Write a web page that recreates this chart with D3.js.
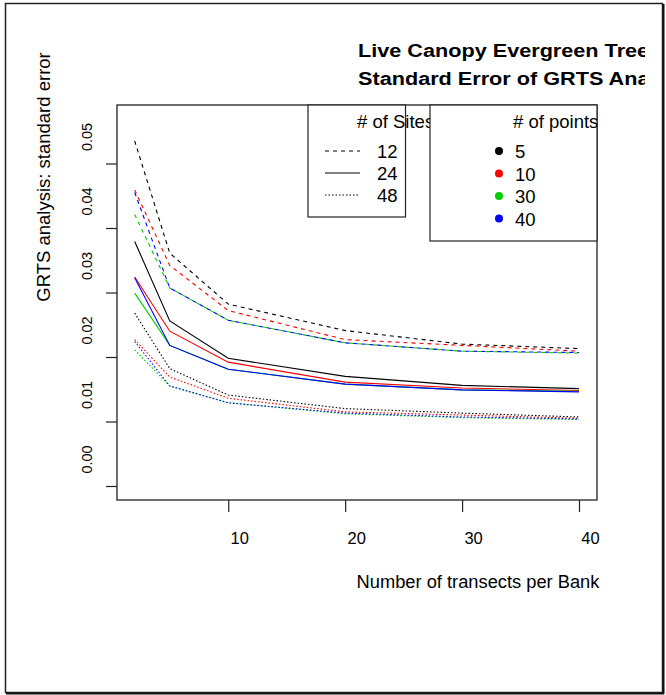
<!DOCTYPE html>
<html>
<head>
<meta charset="utf-8">
<script src="https://cdn.jsdelivr.net/npm/d3@7"></script>
<style>
  body { margin: 0; background: #fff; }
  text { font-family: "Liberation Sans", Arial, sans-serif; fill: #000; }
</style>
</head>
<body>
<div id="chart"></div>
<script>
// data
var transects = [2, 5, 10, 20, 30, 40];
var siteLevels = ["12", "24", "48"];
var pointLevels = ["5", "10", "30", "40"];
var pointColors = ["#000000", "#ff0000", "#00cd00", "#0000ff"];
var xTicks = [10, 20, 30, 40];
var yTicks = [0, 0.01, 0.02, 0.03, 0.04, 0.05];

// 12 sites (dashed)
var se12_p5  = [0.0535, 0.0361, 0.0282, 0.0241, 0.0220, 0.0213];
var se12_p10 = [0.0459, 0.0342, 0.0272, 0.0227, 0.0218, 0.0209];
var se12_p30 = [0.0421, 0.0307, 0.0257, 0.0222, 0.0209, 0.0206];
var se12_p40 = [0.0455, 0.0307, 0.0257, 0.0222, 0.0209, 0.0207];
// 24 sites (solid)
var se24_p5  = [0.0379, 0.0256, 0.0198, 0.0170, 0.0156, 0.0151];
var se24_p10 = [0.0324, 0.0240, 0.0192, 0.0161, 0.0152, 0.0148];
var se24_p30 = [0.0299, 0.0218, 0.0181, 0.0158, 0.0149, 0.0147];
var se24_p40 = [0.0323, 0.0218, 0.0181, 0.0158, 0.0149, 0.0146];
// 48 sites (dotted)
var se48_p5  = [0.0268, 0.0182, 0.0141, 0.0120, 0.0113, 0.0107];
var se48_p10 = [0.0227, 0.0169, 0.0136, 0.0115, 0.0110, 0.0105];
var se48_p30 = [0.0211, 0.0155, 0.0129, 0.0112, 0.0106, 0.0103];
var se48_p40 = [0.0224, 0.0155, 0.0129, 0.0113, 0.0107, 0.0104];

var dashes = {"12": "4,4", "24": null, "48": "1.5,2"};

var series = [
  {sites: "12", pts: 0, vals: se12_p5}, {sites: "12", pts: 1, vals: se12_p10},
  {sites: "12", pts: 2, vals: se12_p30}, {sites: "12", pts: 3, vals: se12_p40},
  {sites: "24", pts: 0, vals: se24_p5}, {sites: "24", pts: 1, vals: se24_p10},
  {sites: "24", pts: 2, vals: se24_p30}, {sites: "24", pts: 3, vals: se24_p40},
  {sites: "48", pts: 0, vals: se48_p5}, {sites: "48", pts: 1, vals: se48_p10},
  {sites: "48", pts: 2, vals: se48_p30}, {sites: "48", pts: 3, vals: se48_p40}
];

var svgWidth = 666;
var svgHeight = 695;

var plot = {left: 117, right: 597, top: 105, bottom: 500};

var svg = d3.select("#chart")
  .append("svg")
  .attr("width", svgWidth)
  .attr("height", svgHeight);

// outer frame
svg.append("rect")
  .attr("x", 5.5).attr("y", 3.5)
  .attr("width", 657).attr("height", 689)
  .attr("fill", "none").attr("stroke", "#222").attr("stroke-width", 1.5);
svg.append("line").attr("x1", 663.5).attr("x2", 663.5).attr("y1", 4).attr("y2", 694)
  .attr("stroke", "#111").attr("stroke-width", 2);
svg.append("line").attr("x1", 6).attr("x2", 664).attr("y1", 693.5).attr("y2", 693.5)
  .attr("stroke", "#111").attr("stroke-width", 2);

// scales
var xScale = d3.scaleLinear().domain([0, 40]).range([111.3, 579]);
var yScale = d3.scaleLinear().domain([0, 0.05]).range([486, 163.5]);

// lines
var line = d3.line()
  .x(function(d, i) { return xScale(transects[i]); })
  .y(function(d) { return yScale(d); });

svg.append("g").selectAll("path")
  .data(series)
  .enter()
  .append("path")
  .attr("d", function(d) { return line(d.vals); })
  .attr("fill", "none")
  .attr("stroke", function(d) { return pointColors[d.pts]; })
  .attr("stroke-width", 1.1)
  .attr("stroke-dasharray", function(d) { return dashes[d.sites]; });

// plot box
svg.append("rect")
  .attr("x", plot.left).attr("y", plot.top)
  .attr("width", plot.right - plot.left).attr("height", plot.bottom - plot.top)
  .attr("fill", "none").attr("stroke", "#222").attr("stroke-width", 1.3);

// axes
var bottomAxis = d3.axisBottom(xScale).tickValues(xTicks).tickSize(12).tickFormat(d3.format("d"));
var leftAxis = d3.axisLeft(yScale).tickValues(yTicks).tickSize(11).tickFormat(d3.format(".2f"));

var xAxisG = svg.append("g")
  .attr("transform", `translate(0, ${plot.bottom})`)
  .call(bottomAxis);
xAxisG.select(".domain").remove();
xAxisG.selectAll("line").attr("stroke", "#222").attr("stroke-width", 1.2);
xAxisG.selectAll("text")
  .attr("y", 44).attr("dy", null).attr("x", 11)
  .style("font-size", "16.5px")
  .attr("font-family", null);

var yAxisG = svg.append("g")
  .attr("transform", `translate(${plot.left}, 0)`)
  .call(leftAxis);
yAxisG.select(".domain").remove();
yAxisG.selectAll("line").attr("stroke", "#222").attr("stroke-width", 1.2);
yAxisG.selectAll("text")
  .attr("x", null).attr("dy", null)
  .attr("text-anchor", "middle")
  .attr("transform", "translate(-25, -27) rotate(-90)")
  .style("font-size", "14.5px")
  .attr("font-family", null);

// axis titles
svg.append("text")
  .attr("x", 478).attr("y", 588)
  .attr("text-anchor", "middle")
  .style("font-size", "18.3px")
  .text("Number of transects per Bank");

svg.append("text")
  .attr("transform", "translate(50, 177) rotate(-90)")
  .attr("text-anchor", "middle")
  .style("font-size", "18.5px")
  .text("GRTS analysis: standard error");

// title (clipped on the right)
svg.append("clipPath").attr("id", "titleClip")
  .append("rect").attr("x", 0).attr("y", 0).attr("width", 645).attr("height", 100);
var titleG = svg.append("g").attr("clip-path", "url(#titleClip)");
titleG.append("text")
  .attr("transform", "translate(358, 57) scale(1.14, 1)")
  .style("font-size", "19px").style("font-weight", "bold")
  .text("Live Canopy Evergreen Tree Cover");
titleG.append("text")
  .attr("transform", "translate(358, 85) scale(1.14, 1)")
  .style("font-size", "19px").style("font-weight", "bold")
  .text("Standard Error of GRTS Analysis");

// legend: # of Sites
var leg1 = svg.append("g");
leg1.append("rect")
  .attr("x", 308).attr("y", 105).attr("width", 97.5).attr("height", 112)
  .attr("fill", "#fff").attr("stroke", "#222").attr("stroke-width", 1.2);
leg1.append("text")
  .attr("x", 357).attr("y", 128)
  .style("font-size", "18.5px")
  .text("# of Sites");
var legY1 = d3.scalePoint().domain(siteLevels).range([151, 195]);
leg1.selectAll("line.s")
  .data(siteLevels)
  .enter()
  .append("line")
  .attr("x1", 325).attr("x2", 360)
  .attr("y1", function(d) { return legY1(d); })
  .attr("y2", function(d) { return legY1(d); })
  .attr("stroke", "#000").attr("stroke-width", 1.1)
  .attr("stroke-dasharray", function(d) { return dashes[d]; });
leg1.selectAll("text.s")
  .data(siteLevels)
  .enter()
  .append("text")
  .attr("x", 377)
  .attr("y", function(d) { return legY1(d) + 7; })
  .style("font-size", "18.5px")
  .text(function(d) { return d; });

// legend: # of points
svg.append("clipPath").attr("id", "plotClip")
  .append("rect").attr("x", 0).attr("y", 0).attr("width", 597).attr("height", 695);
var leg2 = svg.append("g");
leg2.append("rect")
  .attr("x", 430).attr("y", 105).attr("width", 167).attr("height", 136)
  .attr("fill", "#fff").attr("stroke", "#222").attr("stroke-width", 1.2);
leg2.append("text")
  .attr("clip-path", "url(#plotClip)")
  .attr("x", 513).attr("y", 128)
  .style("font-size", "18.5px")
  .text("# of points");
var legY2 = d3.scalePoint().domain(pointLevels).range([151, 218.5]);
leg2.selectAll("circle")
  .data(pointLevels)
  .enter()
  .append("circle")
  .attr("cx", 499)
  .attr("cy", function(d) { return legY2(d); })
  .attr("r", 4)
  .attr("fill", function(d, i) { return pointColors[i]; });
leg2.selectAll("text.p")
  .data(pointLevels)
  .enter()
  .append("text")
  .attr("x", 515)
  .attr("y", function(d) { return legY2(d) + 7; })
  .style("font-size", "18.5px")
  .text(function(d) { return d; });
</script>
</body>
</html>
